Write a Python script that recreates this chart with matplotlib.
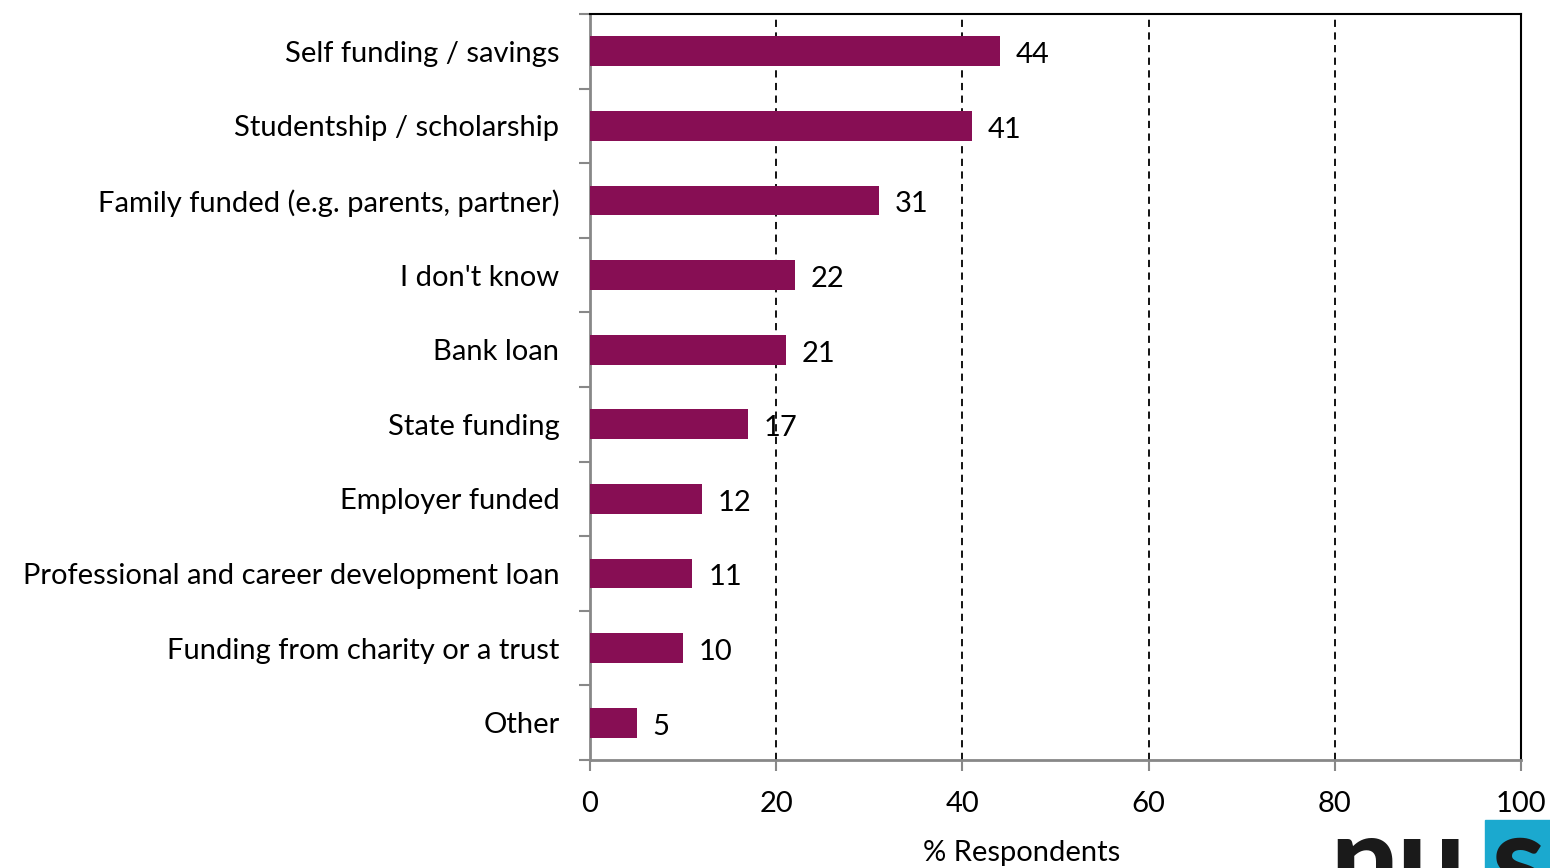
import numpy as np
import matplotlib.pyplot as plt
from matplotlib.patches import Rectangle

categories = ["Self funding / savings", "Studentship / scholarship",
              "Family funded (e.g. parents, partner)", "I don't know",
              "Bank loan", "State funding", "Employer funded",
              "Professional and career development loan",
              "Funding from charity or a trust", "Other"]
values = [44, 41, 31, 22, 21, 17, 12, 11, 10, 5]
xticks = [0, 20, 40, 60, 80, 100]

plt.rcParams['font.family'] = ['Lato', 'DejaVu Sans']
fs = 21

fig = plt.figure(figsize=(15.5, 8.68), dpi=100)
ax = fig.add_axes([590 / 1550, 1 - 760 / 868, 931 / 1550, 746 / 868])

n = len(categories)
y = np.arange(n)
ax.barh(y, values, height=0.4, color="#870E54", zorder=3)
for yi, v in zip(y, values):
    ax.text(v + 1.7, yi + 0.02, str(v), va="center_baseline", ha="left", fontsize=fs, zorder=4)

ax.set_xlim(0, 100)
ax.set_ylim(n - 0.5, -0.5)
ax.set_xticks(xticks)
ax.set_xticklabels([str(t) for t in xticks], fontsize=fs)
ax.set_yticks(y)
ax.set_yticklabels(categories, fontsize=fs, va="center_baseline")
ax.set_yticks(np.arange(-0.5, n, 1), minor=True)
ax.tick_params(axis="y", which="major", length=0, pad=22)
ax.tick_params(axis="y", which="minor", length=8, width=1.5, color="#888888", direction="out")
ax.tick_params(axis="x", length=8, width=1.5, color="#888888", direction="out", pad=14)

for t in xticks[1:-1]:
    ax.axvline(t, color="black", linestyle=(0, (4, 3)), linewidth=1.3, zorder=1)

ax.spines["left"].set_color("#888888")
ax.spines["bottom"].set_color("#888888")
ax.spines["left"].set_linewidth(2)
ax.spines["bottom"].set_linewidth(2)
ax.spines["top"].set_color("black")
ax.spines["right"].set_color("black")
ax.spines["top"].set_linewidth(1.5)
ax.spines["right"].set_linewidth(1.5)

fig.text(1022 / 1550, 1 - 853 / 868, "% Respondents", ha="center", va="center", fontsize=fs)

# nus logo (clipped at the figure edge, as in the source image)
fig.patches.append(Rectangle((1485 / 1550, 0), 70 / 1550, 48 / 868,
                             transform=fig.transFigure, color="#1BA9CF", zorder=0))
fig.text(1330 / 1550, -0.06, "nu", fontsize=86, fontweight="black",
         color="#1a1a1a", ha="left", va="bottom")
fig.text(1492 / 1550, -0.06, "s", fontsize=86, fontweight="black",
         color="#1a1a1a", ha="left", va="bottom")

fig.savefig("out.png", dpi=100)
